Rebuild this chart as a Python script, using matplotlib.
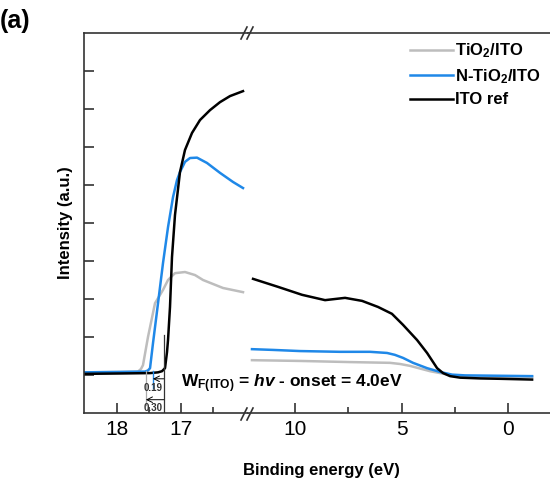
import matplotlib
matplotlib.use("Agg")
import matplotlib.pyplot as plt
from matplotlib.lines import Line2D

plt.rcParams['font.family'] = ['Liberation Sans', 'DejaVu Sans']
plt.rcParams['mathtext.fontset'] = 'custom'
plt.rcParams['mathtext.rm'] = 'Liberation Sans:bold'
plt.rcParams['mathtext.it'] = 'Liberation Sans:bold:italic'
plt.rcParams['mathtext.bf'] = 'Liberation Sans:bold'

# ---- data (binding energy in eV, intensity in arbitrary units) ----
ito_left_x = [18.516, 17.953, 17.484, 17.359, 17.297, 17.25, 17.219, 17.203, 17.172, 17.141, 17.094,
              17.047, 17.016, 16.938, 16.828, 16.703, 16.547, 16.391, 16.234, 16.031]
ito_left_y = [0.03, 0.04, 0.05, 0.07, 0.10, 0.18, 0.60, 0.92, 1.79, 3.10, 4.21,
              4.89, 5.34, 5.92, 6.37, 6.71, 6.97, 7.18, 7.34, 7.47]
ito_right_x = [11.97, 10.80, 9.67, 8.59, 8.12, 7.65, 6.85, 6.10, 5.45, 4.93, 4.27, 3.80, 3.33,
               3.05, 2.72, 2.25, 1.31, 0.38, -1.13]
ito_right_y = [2.53, 2.32, 2.11, 1.97, 2.00, 2.03, 1.95, 1.79, 1.61, 1.32, 0.92, 0.58, 0.18,
               0.05, -0.03, -0.07, -0.09, -0.10, -0.12]

nt_left_x = [18.516, 17.953, 17.5625, 17.516, 17.484, 17.4375, 17.359, 17.281, 17.203, 17.125,
             17.0625, 17.016, 16.9375, 16.859, 16.75, 16.594, 16.391, 16.1875, 16.031]
nt_left_y = [0.07, 0.08, 0.09, 0.12, 0.18, 0.84, 1.89, 2.95, 3.89, 4.68,
             5.13, 5.34, 5.61, 5.71, 5.72, 5.58, 5.32, 5.08, 4.92]
nt_right_x = [12.02, 11.03, 9.77, 7.89, 6.48, 5.68, 5.31, 4.93, 4.46, 3.80, 3.19, 2.63, 2.02, -1.13]
nt_right_y = [0.68, 0.66, 0.63, 0.61, 0.61, 0.58, 0.53, 0.45, 0.32, 0.18, 0.08, 0.01, -0.01, -0.03]

ti_left_x = [18.516, 17.953, 17.672, 17.625, 17.594, 17.516, 17.406, 17.281, 17.203, 17.094,
             16.9375, 16.781, 16.656, 16.344, 16.031]
ti_left_y = [0.07, 0.08, 0.09, 0.16, 0.26, 1.00, 1.89, 2.24, 2.50, 2.68,
             2.71, 2.63, 2.50, 2.29, 2.18]
ti_right_x = [12.02, 9.77, 7.42, 5.54, 5.07, 4.60, 4.13, 3.66, 3.19, 2.72, 2.02, -1.13]
ti_right_y = [0.39, 0.37, 0.34, 0.32, 0.29, 0.24, 0.17, 0.10, 0.05, 0.00, -0.04, -0.05]

onset_ito = 17.25
onset_diff = [0.19, 0.30]
xticks_left = [18, 17]
xticks_right = [10, 5, 0]

c_ti = '#bdbdbd'
c_nt = '#1f88e8'
c_ito = '#000000'
spine_c = '#333333'

fig = plt.figure(figsize=(5.5, 4.82), dpi=100)
W, H = 550, 482
x0, xb, y0, y1 = 84, 248, 33, 413
axL = fig.add_axes([x0 / W, 1 - y1 / H, (xb - x0) / W, (y1 - y0) / H])
axR = fig.add_axes([xb / W, 1 - y1 / H, (W - xb) / W, (y1 - y0) / H], sharey=axL)

lw = 1.8
axL.plot(ti_left_x, ti_left_y, color=c_ti, lw=lw)
axL.plot(nt_left_x, nt_left_y, color=c_nt, lw=lw)
axL.plot(ito_left_x, ito_left_y, color=c_ito, lw=lw)
axR.plot(ti_right_x, ti_right_y, color=c_ti, lw=lw, label='TiO$_2$/ITO')
axR.plot(nt_right_x, nt_right_y, color=c_nt, lw=lw, label='N-TiO$_2$/ITO')
axR.plot(ito_right_x, ito_right_y, color=c_ito, lw=lw, label='ITO ref')

axL.set_xlim(18.516, 15.953)
axR.set_xlim(12.207, -1.97)
axL.set_ylim(-1, 9)

for ax in (axL, axR):
    for s in ax.spines.values():
        s.set_color(spine_c)
        s.set_linewidth(1.2)
    ax.spines['right'].set_visible(False)
    ax.tick_params(which='both', direction='in', color=spine_c, width=1.2)
    ax.tick_params(which='major', length=7, labelsize=15, pad=5)
    ax.tick_params(which='minor', length=4)
axR.spines['left'].set_visible(False)

axL.set_xticks(xticks_left)
axL.set_xticks([17.5, 16.5], minor=True)
axR.set_xticks(xticks_right)
axR.set_xticks([7.5, 2.5], minor=True)
axL.set_yticks(range(0, 9))
axL.set_yticklabels([])
axL.tick_params(axis='y', which='minor', left=False)
axR.tick_params(axis='y', which='both', left=False, labelleft=False)

axL.set_ylabel('Intensity (a.u.)', fontsize=12, fontweight='bold', labelpad=3)
fig.text(321 / W, 1 - 470 / H, 'Binding energy (eV)', fontsize=12, fontweight='bold',
         ha='center', va='center')
fig.text(0.0, 1 - 9 / H, '(a)', fontsize=18, fontweight='bold', ha='left', va='top')

# onset annotation
on_nt = onset_ito + onset_diff[0]
on_ti = onset_ito + onset_diff[1]
axL.plot([onset_ito + 0.02, onset_ito + 0.02], [1.05, -1], color='#333333', lw=0.9)
axL.plot([on_nt, on_nt], [0.1, -0.35], color=c_nt, lw=1.0)
axL.plot([on_ti, on_ti], [0.1, -0.8], color='#aaaaaa', lw=0.9)
axL.annotate('', xy=(on_nt, -0.1), xytext=(onset_ito + 0.02, -0.1),
             arrowprops=dict(arrowstyle='->', lw=0.7, color='k', shrinkA=0, shrinkB=0))
axL.annotate('', xy=(on_ti, -0.65), xytext=(onset_ito + 0.02, -0.65),
             arrowprops=dict(arrowstyle='->', lw=0.7, color='k', shrinkA=0, shrinkB=0))
axL.text(onset_ito + 0.03, -0.33, '%.2f' % onset_diff[0], fontsize=7, fontweight='bold',
         ha='right', va='center', color='#333333')
axL.text(onset_ito + 0.03, -0.87, '%.2f' % onset_diff[1], fontsize=7, fontweight='bold',
         ha='right', va='center', color='#333333')

fig.text(181 / W, 1 - 384 / H, r'W$_{\mathrm{F(ITO)}}$ = $hv$ - onset = 4.0eV', fontsize=12.5,
         fontweight='bold', ha='left', va='center')

# break marks
for yy in (y0, y1 + 1):
    for xx in (244, 250):
        fig.add_artist(Line2D([(xx - 3) / W, (xx + 3) / W], [1 - (yy + 6) / H, 1 - (yy - 6) / H],
                              color=spine_c, lw=1.2))

leg = axR.legend(loc='upper right', bbox_to_anchor=(548 / W, 1 - 35 / H),
                 bbox_transform=fig.transFigure, frameon=False, fontsize=12,
                 handlelength=2.6, handletextpad=0.15, labelspacing=0.4, borderaxespad=0)
for t in leg.get_texts():
    t.set_fontweight('bold')

fig.savefig('out.png', dpi=100)
